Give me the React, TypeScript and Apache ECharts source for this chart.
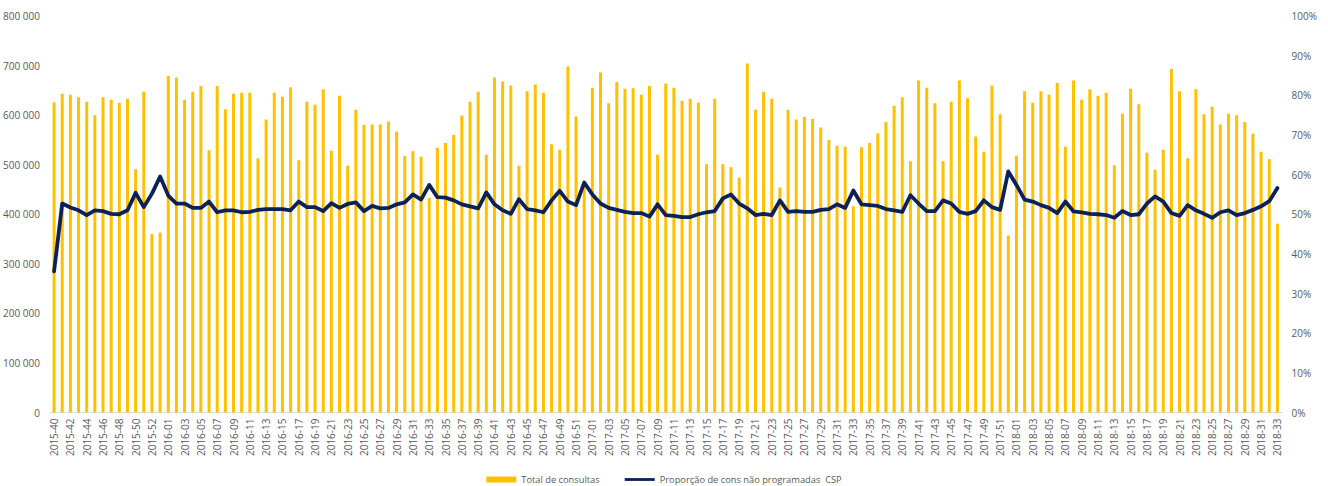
import React, { useEffect, useRef } from "react";
import * as echarts from "echarts";

// Week ranges (year, first week, last week)
const weekRanges: [number, number, number][] = [
  [2015, 40, 53],
  [2016, 1, 52],
  [2017, 1, 52],
  [2018, 1, 33],
];
const categories: string[] = [];
weekRanges.forEach(([y, a, b]) => {
  for (let w = a; w <= b; w++) categories.push(`${y}-${String(w).padStart(2, "0")}`);
});

const totalConsultas: number[] = [
  626000, 643000, 641000, 636000, 627000, 600000, 636000, 631000, 625000, 633000,
  491000, 647000, 360000, 363000, 679000, 676000, 631000, 647000, 659000, 529000,
  659000, 612000, 643000, 645000, 645000, 513000, 591000, 645000, 637000, 656000,
  509000, 627000, 621000, 652000, 528000, 639000, 498000, 611000, 580000, 581000,
  581000, 587000, 567000, 518000, 527000, 516000, 433000, 534000, 544000, 560000,
  599000, 627000, 647000, 520000, 676000, 668000, 660000, 498000, 648000, 662000,
  645000, 541000, 530000, 698000, 597000, 455000, 655000, 686000, 624000, 667000,
  653000, 654000, 641000, 659000, 520000, 664000, 655000, 629000, 633000, 625000,
  501000, 633000, 501000, 495000, 474000, 704000, 611000, 647000, 633000, 454000,
  611000, 591000, 596000, 592000, 575000, 550000, 538000, 536000, 416000, 535000,
  544000, 563000, 586000, 619000, 636000, 507000, 670000, 655000, 624000, 507000,
  627000, 670000, 634000, 557000, 526000, 660000, 602000, 357000, 518000, 648000,
  625000, 648000, 641000, 665000, 536000, 670000, 631000, 652000, 639000, 645000,
  499000, 603000, 653000, 622000, 524000, 490000, 530000, 693000, 648000, 513000,
  652000, 602000, 617000, 581000, 603000, 600000, 586000, 563000, 526000, 511000,
  381000,
];

const propNaoProgramadas: number[] = [
  35.6, 52.7, 51.7, 51.0, 49.8, 51.0, 50.8, 50.1, 50.0, 51.0,
  55.4, 51.8, 55.2, 59.5, 54.7, 52.7, 52.7, 51.6, 51.6, 53.2,
  50.5, 51.0, 51.0, 50.5, 50.6, 51.1, 51.3, 51.3, 51.3, 51.0,
  53.2, 51.8, 51.8, 50.8, 52.8, 51.6, 52.6, 53.0, 50.8, 52.1,
  51.5, 51.6, 52.5, 53.0, 55.0, 53.7, 57.4, 54.3, 54.2, 53.5,
  52.5, 52.0, 51.5, 55.5, 52.5, 51.0, 50.1, 53.8, 51.3, 51.0,
  50.5, 53.5, 55.9, 53.2, 52.3, 58.0, 55.0, 52.7, 51.6, 51.1,
  50.6, 50.3, 50.3, 49.4, 52.5, 49.8, 49.6, 49.3, 49.3, 50.0,
  50.5, 50.8, 54.0, 55.0, 52.7, 51.5, 49.8, 50.1, 49.8, 53.5,
  50.6, 50.8, 50.6, 50.6, 51.1, 51.3, 52.5, 51.6, 56.0, 52.5,
  52.3, 52.1, 51.3, 51.0, 50.6, 54.8, 52.7, 50.8, 50.8, 53.5,
  52.7, 50.6, 50.1, 50.8, 53.5, 51.8, 51.1, 60.8, 57.4, 53.7,
  53.2, 52.3, 51.6, 50.3, 53.2, 50.7, 50.5, 50.1, 50.0, 49.8,
  49.1, 50.8, 49.8, 50.0, 52.7, 54.5, 53.2, 50.3, 49.6, 52.3,
  51.0, 50.1, 49.1, 50.5, 51.0, 49.8, 50.3, 51.1, 52.0, 53.3,
  56.6,
];

const seriesNames = ["Total de consultas", "Proporção de cons não programadas  CSP"];

const FONT = "'Open Sans', 'Noto Sans', sans-serif";
const GREY = "#595959";

export default function App() {
  const ref = useRef<HTMLDivElement>(null);
  useEffect(() => {
    if (!ref.current) return;
    const chart = echarts.init(ref.current, null, { renderer: "svg" });
    chart.setOption({
      animation: false,
      textStyle: { fontFamily: FONT },
      grid: { left: 50, right: 46.5, top: 16, bottom: 73.5, outerBoundsMode: "none", containLabel: false },
      legend: {
        left: "center",
        top: 470,
        itemWidth: 30,
        itemHeight: 6,
        itemGap: 25,
        textStyle: { color: GREY, fontSize: 9.3, fontFamily: FONT },
        data: [
          { name: seriesNames[0], icon: "rect" },
          { name: seriesNames[1], icon: "path://M0,0 L32,0 L32,3 L0,3 Z" },
        ],
      },
      xAxis: {
        type: "category",
        data: categories,
        boundaryGap: true,
        axisLine: { show: true, lineStyle: { color: "#d9d9d9", width: 1 } },
        axisTick: { show: false },
        axisLabel: {
          interval: 1,
          rotate: 90,
          color: GREY,
          fontSize: 10,
          fontFamily: FONT,
          margin: 6,
        },
      },
      yAxis: [
        {
          type: "value",
          min: 0,
          max: 800000,
          interval: 100000,
          axisLine: { show: false },
          axisTick: { show: false },
          splitLine: { show: false },
          axisLabel: {
            color: GREY,
            fontSize: 10,
            fontFamily: FONT,
            margin: 10,
            formatter: (v: number) => String(v).replace(/\B(?=(\d{3})+(?!\d))/g, " "),
          },
        },
        {
          type: "value",
          min: 0,
          max: 100,
          interval: 10,
          position: "right",
          axisLine: { show: false },
          axisTick: { show: false },
          splitLine: { show: false },
          axisLabel: {
            color: GREY,
            fontSize: 10,
            fontFamily: FONT,
            margin: 10,
            formatter: (v: number) => `${v}%`,
          },
        },
      ],
      series: [
        {
          name: seriesNames[0],
          type: "bar",
          data: totalConsultas,
          barWidth: 3,
          itemStyle: { color: "#FFC000" },
          yAxisIndex: 0,
          z: 2,
        },
        {
          name: seriesNames[1],
          type: "line",
          data: propNaoProgramadas,
          yAxisIndex: 1,
          showSymbol: false,
          symbol: "none",
          lineStyle: { color: "#0a2257", width: 3.8, join: "round", cap: "round" },
          itemStyle: { color: "#0a2257" },
          z: 3,
        },
      ],
    });
    return () => chart.dispose();
  }, []);
  return (
    <div
      ref={ref}
      style={{ position: "fixed", left: 0, top: 0, width: 1328, height: 486, background: "#fff" }}
    />
  );
}
